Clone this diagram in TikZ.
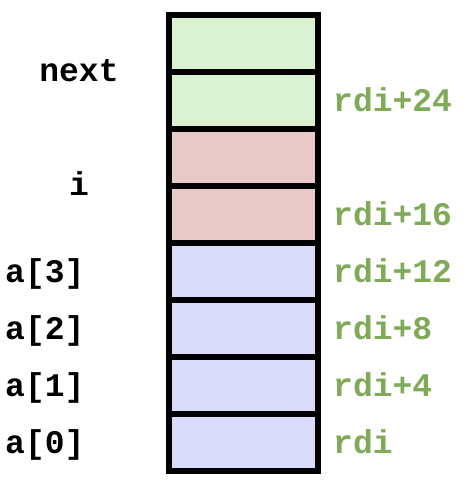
\documentclass[tikz,border=0pt]{standalone}
\usepackage{fontspec}
\newfontfamily\monofont{Liberation Mono}
\definecolor{cgreen}{HTML}{DBF2D2}
\definecolor{cpink}{HTML}{E8C9C7}
\definecolor{cblue}{HTML}{D9DBF8}
\definecolor{lgreen}{HTML}{7FAA58}
\tikzset{
  cell/.style={draw=black, line width=6pt, minimum width=148.7pt, minimum height=57pt, inner sep=0pt, outer sep=0pt},
  lbl/.style={font=\monofont\bfseries\fontsize{33}{36}\selectfont, inner sep=0pt, text=black},
  addr/.style={font=\monofont\bfseries\fontsize{33}{36}\selectfont, inner sep=0pt, text=lgreen, anchor=base west},
}
\begin{document}
\begin{tikzpicture}[x=1pt,y=-1pt]
\useasboundingbox (0,0) rectangle (470,488);
% cells
\node[cell, fill=cgreen] (n1) at (243.65,43.5) {};
\node[cell, fill=cgreen] (n0) at (243.65,100.5) {};
\node[cell, fill=cpink] (i1) at (243.65,157.5) {};
\node[cell, fill=cpink] (i0) at (243.65,214.5) {};
\node[cell, fill=cblue] (a3) at (243.65,271.5) {};
\node[cell, fill=cblue] (a2) at (243.65,328.5) {};
\node[cell, fill=cblue] (a1) at (243.65,385.5) {};
\node[cell, fill=cblue] (a0) at (243.65,442.5) {};
% left labels
\node[lbl, anchor=base] (tnext) at (79,81) {next};
\node[lbl, anchor=base] (ti) at (79,195) {i};
\node[lbl, anchor=base west] (ta3) at (5,282) {a[3]};
\node[lbl, anchor=base west] (ta2) at (5,339) {a[2]};
\node[lbl, anchor=base west] (ta1) at (5,396) {a[1]};
\node[lbl, anchor=base west] (ta0) at (5,453) {a[0]};
% addresses
\node[addr] (r24) at (333,111) {rdi+24};
\node[addr] (r16) at (333,225) {rdi+16};
\node[addr] (r12) at (333,282) {rdi+12};
\node[addr] (r8) at (333,339) {rdi+8};
\node[addr] (r4) at (333,396) {rdi+4};
\node[addr] (r0) at (333,453) {rdi};
\end{tikzpicture}
\end{document}
